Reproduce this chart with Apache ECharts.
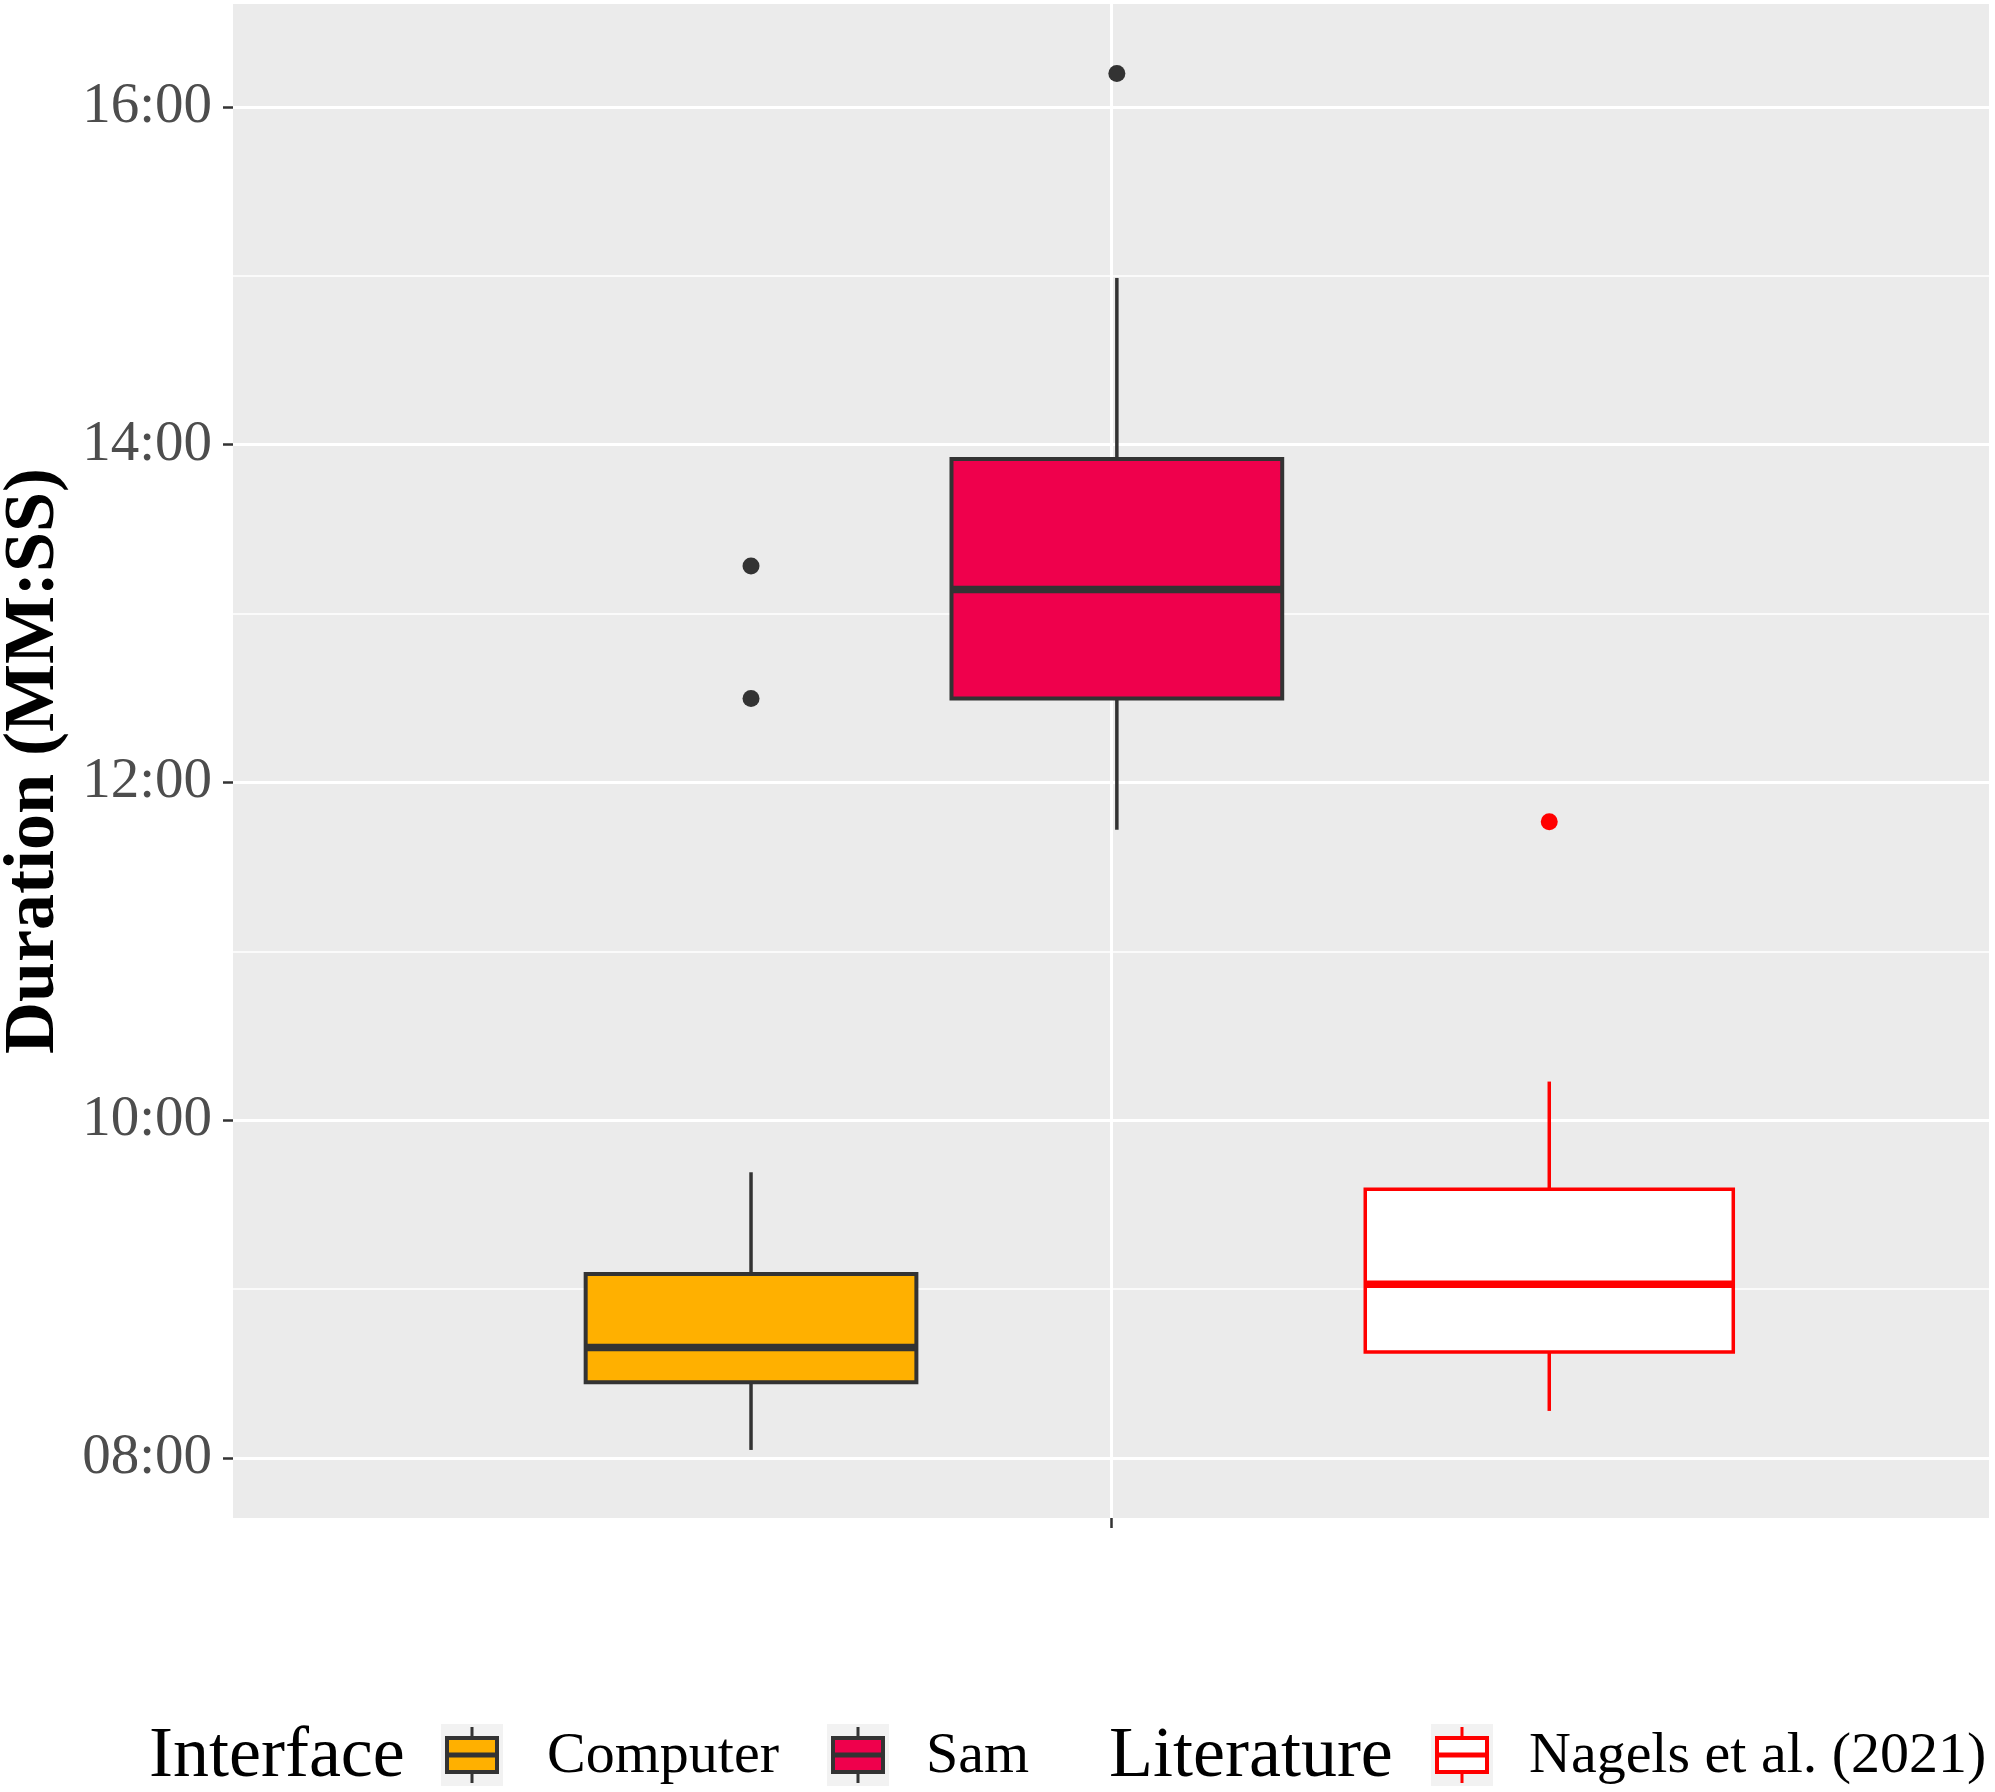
<!DOCTYPE html>
<html>
<head>
<meta charset="utf-8">
<script src="https://cdn.jsdelivr.net/npm/echarts@6/dist/echarts.min.js"></script>
<style>
html,body{margin:0;padding:0;background:#fff}
#main{width:1995px;height:1792px}
</style>
</head>
<body>
<div id="main"></div>
<script>
// durations in decimal minutes
// five-number summaries: [lower whisker, Q1, median, Q3, upper whisker]
var computerBox = [8.048, 8.449, 8.655, 9.09, 9.692];
var samBox = [11.72, 12.497, 13.142, 13.915, 14.987];
var nagelsBox = [8.279, 8.628, 9.029, 9.591, 10.229];
// outliers
var computerOut = [13.282, 12.497];
var samOut = [16.197];
var nagelsOut = [11.767];
// y axis
var yTicks = [8, 10, 12, 14, 16];
var yMinor = [9, 11, 13, 15];

var FONT = "'Liberation Serif', 'Times New Roman', serif";
var DARK = '#333333';

// dodge positions on the single x slot (x = 1), ggplot style
var slot = {
	Computer: {x: 0.754, w: 0.226},
	Sam: {x: 1.004, w: 0.226},
	Nagels: {x: 1.2995, w: 0.2515}
};

function mmss(v){
	var m = Math.floor(v + 1e-9);
	var s = Math.round((v - m) * 60);
	return (m < 10 ? '0' : '') + m + ':' + (s < 10 ? '0' : '') + s;
}

function $each(a, fn){ for (var i = 0; i < a.length; i++) fn(a[i], i); }

function boxSeries(name, stats, pos, fill, stroke, lw, medW){
	return {
		name: name,
		type: 'custom',
		z: 3,
		silent: true,
		data: [[pos.x, pos.w].concat(stats)],
		encode: {x: 0, y: [2, 3, 4, 5, 6]},
		renderItem: function(params, api){
			var x = api.value(0), w = api.value(1);
			var lo = api.coord([x, api.value(2)]);
			var q1 = api.coord([x - w / 2, api.value(3)]);
			var md = api.coord([x, api.value(4)]);
			var q3 = api.coord([x + w / 2, api.value(5)]);
			var hi = api.coord([x, api.value(6)]);
			var left = q1[0], right = q3[0];
			return {
				type: 'group',
				children: [
					{type: 'line', shape: {x1: hi[0], y1: hi[1], x2: hi[0], y2: q3[1]},
						style: {stroke: stroke, lineWidth: 3.5}},
					{type: 'line', shape: {x1: lo[0], y1: q1[1], x2: lo[0], y2: lo[1]},
						style: {stroke: stroke, lineWidth: 3.5}},
					{type: 'rect', shape: {x: left, y: q3[1], width: right - left, height: q1[1] - q3[1]},
						style: {fill: fill, stroke: stroke, lineWidth: lw}},
					{type: 'line', shape: {x1: left, y1: md[1], x2: right, y2: md[1]},
						style: {stroke: stroke, lineWidth: medW}}
				]
			};
		}
	};
}

function outSeries(name, vals, pos, color){
	var arr = [];
	$each(vals, function(v){ arr.push([pos.x, v]); });
	return {
		name: name + ' outliers',
		type: 'scatter',
		z: 4,
		silent: true,
		symbol: 'circle',
		symbolSize: 17,
		itemStyle: {color: color, opacity: 1},
		data: arr
	};
}

// gridlines drawn as mark lines through the axes
var gridLines = [];
$each(yTicks, function(v){ gridLines.push({yAxis: v, lineStyle: {width: 3}}); });
$each(yMinor, function(v){ gridLines.push({yAxis: v, lineStyle: {width: 1.6}}); });
gridLines.push({xAxis: 1, lineStyle: {width: 3}});

// legend keys
function legendKey(x, y, fill, stroke){
	return {
		type: 'group', x: x, y: y,
		children: [
			{type: 'rect', shape: {x: 0, y: 0, width: 62, height: 62}, style: {fill: '#f2f2f2'}},
			{type: 'line', shape: {x1: 31, y1: 3, x2: 31, y2: 59}, style: {stroke: stroke, lineWidth: 3}},
			{type: 'rect', shape: {x: 6, y: 14, width: 50, height: 34}, style: {fill: fill, stroke: stroke, lineWidth: 4}},
			{type: 'line', shape: {x1: 6, y1: 31, x2: 56, y2: 31}, style: {stroke: stroke, lineWidth: 5}}
		]
	};
}
function legendText(x, txt, size){
	return {type: 'text', x: x, y: 1757,
		style: {text: txt, font: size + 'px ' + FONT, fill: '#000', verticalAlign: 'middle', align: 'left'}};
}

var dom = document.getElementById('main');
var myChart = echarts.init(dom, null, {renderer: 'canvas'});
var option = {
	backgroundColor: '#ffffff',
	animation: false,
	grid: {left: 233, right: 6, top: 4, bottom: 274, show: true, backgroundColor: '#ebebeb', borderWidth: 0,
		containLabel: false, outerBoundsMode: 'none'},
	xAxis: {
		type: 'value', min: 0.4, max: 1.6,
		axisLine: {show: false},
		axisTick: {show: true, length: 10, customValues: [1], lineStyle: {color: DARK, width: 2.5}},
		axisLabel: {show: false},
		splitLine: {show: false}
	},
	yAxis: {
		type: 'value', min: 7.645, max: 16.609,
		name: 'Duration (MM:SS)',
		nameLocation: 'middle',
		nameGap: 163,
		nameTextStyle: {fontFamily: FONT, fontSize: 72, fontWeight: 'bold', color: '#000'},
		axisLine: {show: false},
		axisTick: {show: true, length: 10, customValues: yTicks, lineStyle: {color: DARK, width: 2.5}},
		axisLabel: {show: true, customValues: yTicks, margin: 21, fontFamily: FONT, fontSize: 57, color: '#4d4d4d',
			formatter: function(v){ return mmss(v); }},
		splitLine: {show: false}
	},
	graphic: [
		legendText(149, 'Interface', 72),
		legendKey(441, 1724, '#FFB000', DARK),
		legendText(547, 'Computer', 58),
		legendKey(827, 1724, '#EF004C', DARK),
		legendText(926, 'Sam', 58),
		legendText(1109, 'Literature', 72),
		legendKey(1431, 1724, '#ffffff', '#FF0000'),
		legendText(1529, 'Nagels et al. (2021)', 58)
	],
	series: [
		{
			name: 'grid', type: 'line', z: 1, silent: true, data: [],
			markLine: {z: 1, silent: true, symbol: ['none', 'none'], label: {show: false},
				lineStyle: {color: '#ffffff', type: 'solid'}, data: gridLines}
		},
		boxSeries('Computer', computerBox, slot.Computer, '#FFB000', DARK, 4, 7.5),
		boxSeries('Sam', samBox, slot.Sam, '#EF004C', DARK, 4, 7.5),
		boxSeries('Nagels et al. (2021)', nagelsBox, slot.Nagels, '#ffffff', '#FF0000', 3.5, 7.5),
		outSeries('Computer', computerOut, slot.Computer, DARK),
		outSeries('Sam', samOut, slot.Sam, DARK),
		outSeries('Nagels', nagelsOut, slot.Nagels, '#FF0000')
	]
};
myChart.setOption(option, true);
</script>
</body>
</html>
